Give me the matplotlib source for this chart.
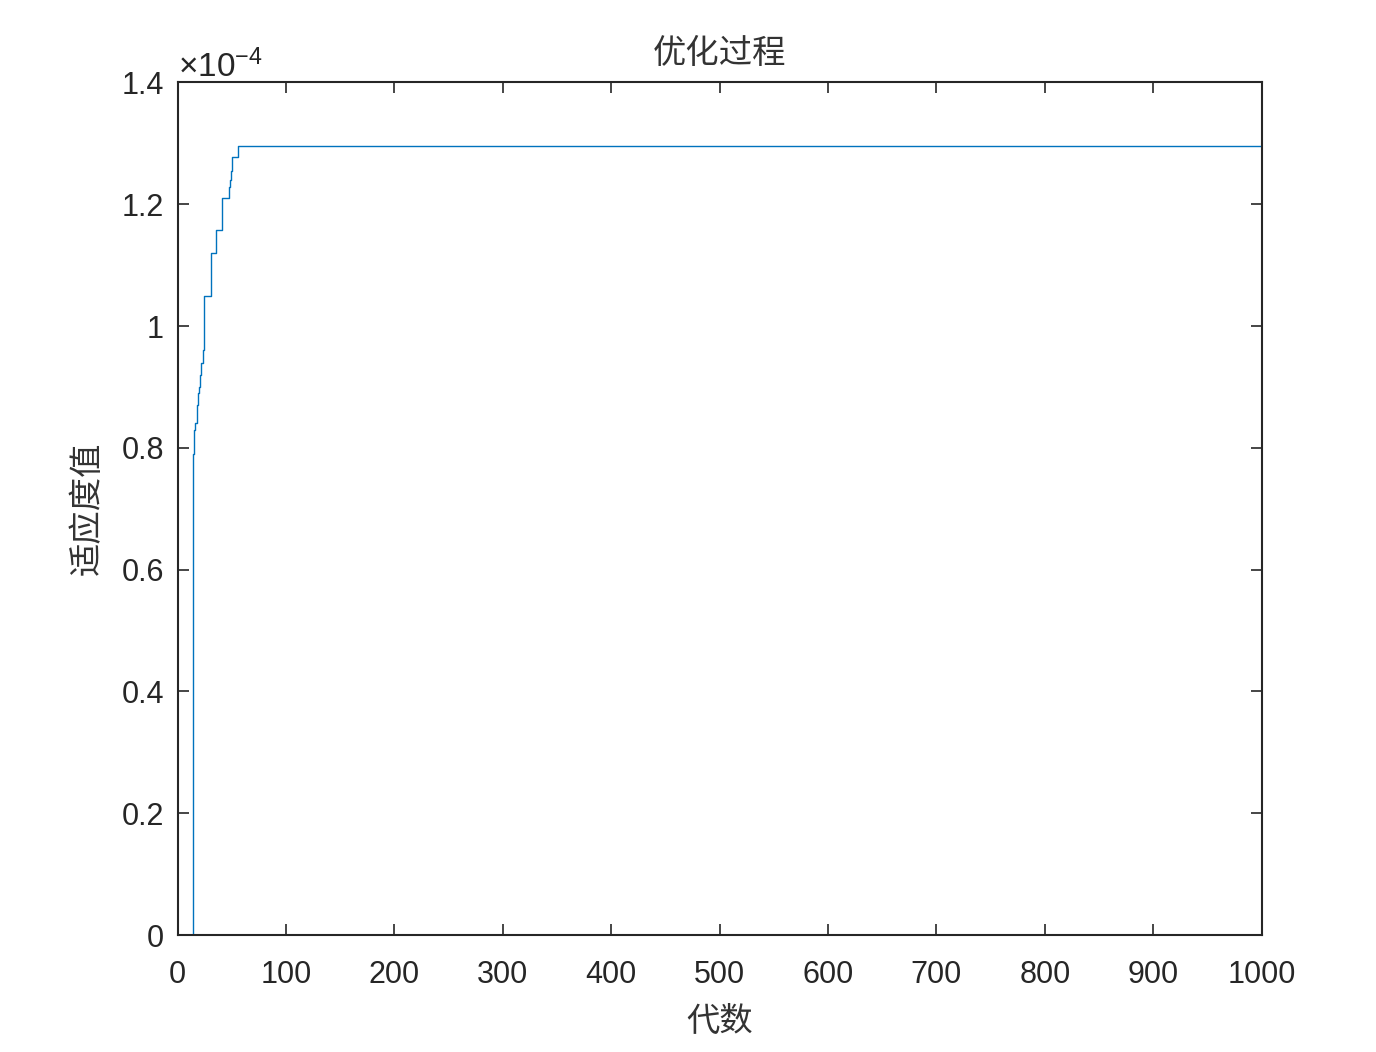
import matplotlib
matplotlib.use('Agg')
import matplotlib.pyplot as plt
from matplotlib.ticker import FuncFormatter, MultipleLocator

plt.rcParams['font.family'] = ['Liberation Sans', 'Noto Sans CJK SC', 'DejaVu Sans']
plt.rcParams['mathtext.fontset'] = 'custom'
plt.rcParams['mathtext.rm'] = 'Liberation Sans'

# best fitness per generation, given at the generations where it changes
gens = [1, 13, 14, 15, 16, 18, 19, 20, 21, 22, 23, 24, 31, 35, 41, 47, 48, 49, 50, 56, 1000]
fitness = [0, 0, 0.79, 0.83, 0.84, 0.87, 0.89, 0.90, 0.92, 0.94, 0.96, 1.05,
           1.12, 1.157, 1.21, 1.228, 1.24, 1.255, 1.277, 1.295, 1.295]
fitness = [v * 1e-4 for v in fitness]

fig = plt.figure(figsize=(13.76, 10.52), dpi=100)
ax = fig.add_axes([0.1291, 0.1112, 0.7878, 0.8104])

ax.plot(gens, fitness, drawstyle='steps-post', color='#0072BD', linewidth=1.0)

ax.set_xlim(0, 1000)
ax.set_ylim(0, 1.4e-4)
ax.xaxis.set_major_locator(MultipleLocator(100))
ax.yaxis.set_major_locator(MultipleLocator(0.2e-4))
ax.yaxis.set_major_formatter(FuncFormatter(lambda v, p: f'{v * 1e4:g}'))

txt = '#262626'
ax.tick_params(direction='in', length=8, width=1.2, top=True, right=True,
               labelsize=22, colors=txt)
ax.tick_params(axis='x', pad=18)
ax.tick_params(axis='y', pad=10)
for s in ax.spines.values():
    s.set_linewidth(1.5)
    s.set_color(txt)

ax.text(0.0, 0.998, r'$\times\mathregular{10^{-4}}$', transform=ax.transAxes,
        fontsize=24, color=txt, ha='left', va='bottom')

cjk = ['Noto Sans CJK SC', 'DejaVu Sans']
ax.set_title('优化过程', fontsize=24, color='#333333', family=cjk, pad=14)
ax.set_xlabel('代数', fontsize=24, color='#333333', family=cjk, labelpad=10)
ax.set_ylabel('适应度值', fontsize=24, color='#333333', family=cjk, labelpad=12)

fig.savefig('out.png', dpi=100, facecolor='white')
